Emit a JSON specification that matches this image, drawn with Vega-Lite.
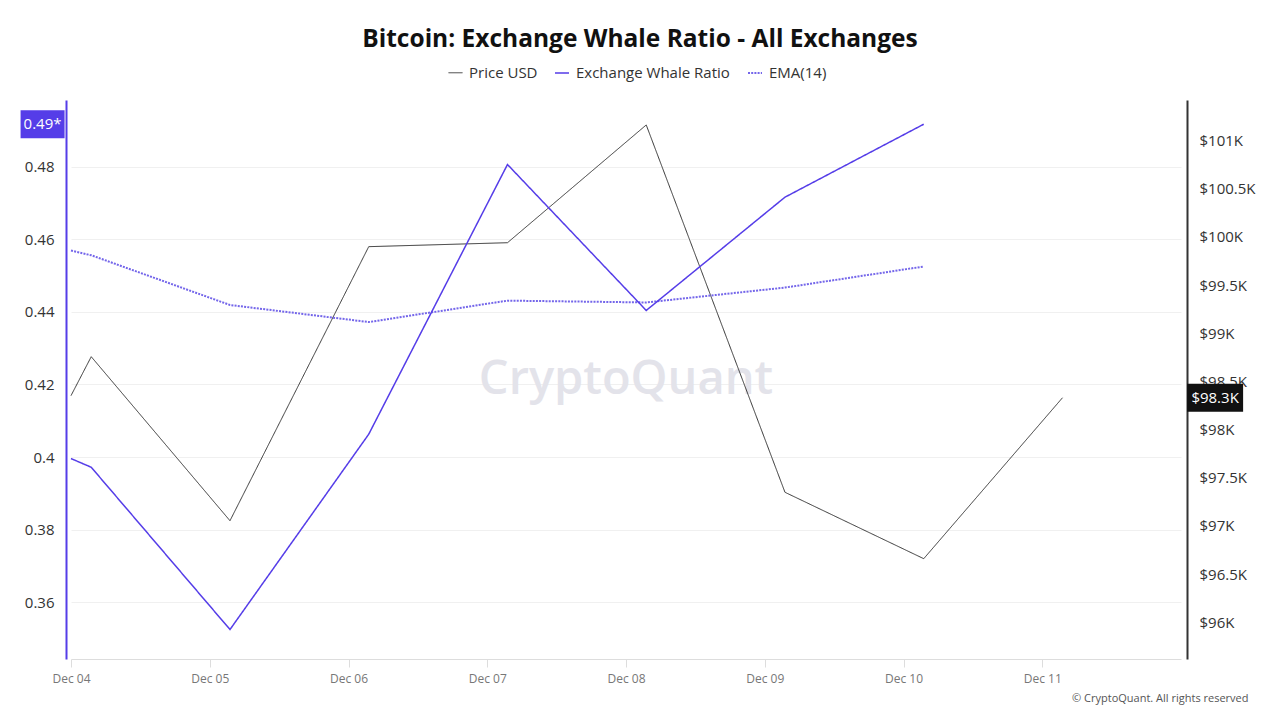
{
  "$schema": "https://vega.github.io/schema/vega-lite/v6.json",
  "width": 1110,
  "height": 559,
  "autosize": {"type": "none"},
  "padding": {"left": 71, "top": 100, "right": 99, "bottom": 61},
  "background": "white",
  "config": {"font": "Open Sans", "view": {"stroke": null}},
  "title": {"text": "Bitcoin: Exchange Whale Ratio - All Exchanges", "font": "Open Sans", "fontSize": 24.5, "fontWeight": "bold", "color": "#111111", "anchor": "middle", "dx": 14, "offset": 13},
  "datasets": {
    "price": [
      {"date": "2024-12-04T00:00:00", "series": "Price USD", "value": 98352},
      {"date": "2024-12-04T03:30:00", "series": "Price USD", "value": 98756},
      {"date": "2024-12-05T03:30:00", "series": "Price USD", "value": 97054},
      {"date": "2024-12-06T03:30:00", "series": "Price USD", "value": 99898},
      {"date": "2024-12-07T03:30:00", "series": "Price USD", "value": 99939},
      {"date": "2024-12-08T03:30:00", "series": "Price USD", "value": 101161},
      {"date": "2024-12-09T03:30:00", "series": "Price USD", "value": 97349},
      {"date": "2024-12-10T03:30:00", "series": "Price USD", "value": 96660},
      {"date": "2024-12-11T03:30:00", "series": "Price USD", "value": 98330}
    ],
    "whale": [
      {"date": "2024-12-04T00:00:00", "series": "Exchange Whale Ratio", "value": 0.3996},
      {"date": "2024-12-04T03:30:00", "series": "Exchange Whale Ratio", "value": 0.3972},
      {"date": "2024-12-05T03:30:00", "series": "Exchange Whale Ratio", "value": 0.3525},
      {"date": "2024-12-06T03:30:00", "series": "Exchange Whale Ratio", "value": 0.4063},
      {"date": "2024-12-07T03:30:00", "series": "Exchange Whale Ratio", "value": 0.4806},
      {"date": "2024-12-08T03:30:00", "series": "Exchange Whale Ratio", "value": 0.4404},
      {"date": "2024-12-09T03:30:00", "series": "Exchange Whale Ratio", "value": 0.4716},
      {"date": "2024-12-10T03:30:00", "series": "Exchange Whale Ratio", "value": 0.4917}
    ],
    "ema": [
      {"date": "2024-12-04T00:00:00", "series": "EMA(14)", "value": 0.4569},
      {"date": "2024-12-04T03:30:00", "series": "EMA(14)", "value": 0.4556},
      {"date": "2024-12-05T03:30:00", "series": "EMA(14)", "value": 0.4419},
      {"date": "2024-12-06T03:30:00", "series": "EMA(14)", "value": 0.4372},
      {"date": "2024-12-07T03:30:00", "series": "EMA(14)", "value": 0.4431},
      {"date": "2024-12-08T03:30:00", "series": "EMA(14)", "value": 0.4426},
      {"date": "2024-12-09T03:30:00", "series": "EMA(14)", "value": 0.4467},
      {"date": "2024-12-10T03:30:00", "series": "EMA(14)", "value": 0.4525}
    ]
  },
  "layer": [
    {
      "data": {"values": [{}]},
      "mark": {"type": "text", "x": {"expr": "width/2"}, "y": {"expr": "height/2"}, "text": "CryptoQuant", "font": "Open Sans", "fontSize": 47, "fontWeight": 600, "color": "#e3e3ea", "align": "center", "baseline": "middle"},
      "encoding": {}
    },
    {
      "layer": [
        {
          "data": {"name": "price"},
          "mark": {"type": "line"},
          "encoding": {
            "x": {"field": "date", "type": "temporal", "scale": {"domain": [{"year": 2024, "month": 12, "date": 4}, {"year": 2024, "month": 12, "date": 12}]},
              "axis": {"values": [{"year": 2024, "month": 12, "date": 4}, {"year": 2024, "month": 12, "date": 5}, {"year": 2024, "month": 12, "date": 6}, {"year": 2024, "month": 12, "date": 7}, {"year": 2024, "month": 12, "date": 8}, {"year": 2024, "month": 12, "date": 9}, {"year": 2024, "month": 12, "date": 10}, {"year": 2024, "month": 12, "date": 11}],
                "format": "%b %d", "labelFontSize": 12, "labelColor": "#777777", "labelFlush": false, "labelPadding": 6,
                "domainColor": "#dddddd", "domainWidth": 1, "tickColor": "#dddddd", "tickSize": 8, "grid": false,
                "title": "© CryptoQuant. All rights reserved", "titleFontSize": 11, "titleFontWeight": "normal", "titleColor": "#555555",
                "titleAnchor": "end", "titleAlign": "right", "titleX": 1177, "titleY": 39, "titleBaseline": "middle"}},
            "y": {"field": "value", "type": "quantitative", "scale": {"domain": [95619, 101420], "zero": false, "nice": false},
              "axis": {"orient": "right", "offset": 6, "values": [96000, 96500, 97000, 97500, 98000, 98500, 99000, 99500, 100000, 100500, 101000],
                "labelExpr": "'$' + format(datum.value/1000, '~g') + 'K'", "labelFontSize": 15, "labelColor": "#333333",
                "ticks": false, "tickSize": 0, "labelPadding": 12, "domainColor": "#333333", "domainWidth": 2, "grid": false, "title": null}},
            "color": {"field": "series", "type": "nominal",
              "scale": {"domain": ["Price USD", "Exchange Whale Ratio", "EMA(14)"], "range": ["#333333", "#553de8", "#7466ea"]},
              "legend": {"orient": "none", "legendX": 377, "legendY": -35, "direction": "horizontal", "title": null,
                "labelFontSize": 15, "labelColor": "#333333", "symbolType": "stroke", "symbolSize": 196, "columnPadding": 14, "labelOffset": 6}},
            "strokeDash": {"field": "series", "type": "nominal",
              "scale": {"domain": ["Price USD", "Exchange Whale Ratio", "EMA(14)"], "range": [[1, 0], [1, 0], [2, 1.2]]}},
            "strokeWidth": {"field": "series", "type": "nominal",
              "scale": {"domain": ["Price USD", "Exchange Whale Ratio", "EMA(14)"], "range": [1, 2, 0.8]}}
          }
        },
        {
          "data": {"name": "price"},
          "transform": [
            {"filter": {"field": "date", "equal": {"year": 2024, "month": 12, "date": 11, "hours": 3, "minutes": 30}}}
          ],
          "mark": {"type": "point", "shape": "M-1,-0.5H1V0.5H-1Z", "filled": true, "color": "#111111", "opacity": 1, "size": 3136},
          "encoding": {
            "x": {"datum": {"year": 2024, "month": 12, "date": 12, "hours": 5, "minutes": 54}, "type": "temporal"},
            "y": {"field": "value", "type": "quantitative", "scale": {"domain": [95619, 101420], "zero": false, "nice": false}}
          }
        },
        {
          "data": {"name": "price"},
          "transform": [
            {"filter": {"field": "date", "equal": {"year": 2024, "month": 12, "date": 11, "hours": 3, "minutes": 30}}},
            {"calculate": "'$' + format(datum.value/1000, '.1f') + 'K'", "as": "label"}
          ],
          "mark": {"type": "text", "color": "white", "fontSize": 15, "font": "Open Sans", "align": "center", "baseline": "middle"},
          "encoding": {
            "x": {"datum": {"year": 2024, "month": 12, "date": 12, "hours": 5, "minutes": 54}, "type": "temporal"},
            "y": {"field": "value", "type": "quantitative", "scale": {"domain": [95619, 101420], "zero": false, "nice": false}},
            "text": {"field": "label", "type": "nominal"}
          }
        }
      ]
    },
    {
      "layer": [
        {
          "data": {"name": "ema"},
          "mark": {"type": "line"},
          "encoding": {
            "x": {"field": "date", "type": "temporal"},
            "y": {"field": "value", "type": "quantitative", "scale": {"domain": [0.34438, 0.49837], "zero": false, "nice": false},
              "axis": {"orient": "left", "offset": 5, "values": [0.36, 0.38, 0.4, 0.42, 0.44, 0.46, 0.48], "format": ".2~f",
                "labelFontSize": 15, "labelColor": "#333333", "ticks": false, "tickSize": 0, "labelPadding": 12,
                "domainColor": "#553de8", "domainWidth": 2, "grid": true, "gridColor": "#f0f0f0", "gridWidth": 1, "title": null}},
            "color": {"field": "series", "type": "nominal"},
            "strokeDash": {"field": "series", "type": "nominal"},
            "strokeWidth": {"field": "series", "type": "nominal"}
          }
        },
        {
          "data": {"name": "whale"},
          "mark": {"type": "line"},
          "encoding": {
            "x": {"field": "date", "type": "temporal"},
            "y": {"field": "value", "type": "quantitative", "scale": {"domain": [0.34438, 0.49837], "zero": false, "nice": false}},
            "color": {"field": "series", "type": "nominal"},
            "strokeDash": {"field": "series", "type": "nominal"},
            "strokeWidth": {"field": "series", "type": "nominal"}
          }
        },
        {
          "data": {"name": "whale"},
          "transform": [
            {"filter": {"field": "date", "equal": {"year": 2024, "month": 12, "date": 10, "hours": 3, "minutes": 30}}}
          ],
          "mark": {"type": "point", "shape": "M-1,-0.636H1V0.636H-1Z", "filled": true, "color": "#553de8", "opacity": 1, "size": 1936},
          "encoding": {
            "x": {"datum": {"year": 2024, "month": 12, "date": 3, "hours": 19, "minutes": 5}, "type": "temporal"},
            "y": {"field": "value", "type": "quantitative", "scale": {"domain": [0.34438, 0.49837], "zero": false, "nice": false}}
          }
        },
        {
          "data": {"name": "whale"},
          "transform": [
            {"filter": {"field": "date", "equal": {"year": 2024, "month": 12, "date": 10, "hours": 3, "minutes": 30}}},
            {"calculate": "format(datum.value, '.2f') + '*'", "as": "label"}
          ],
          "mark": {"type": "text", "color": "white", "fontSize": 15, "font": "Open Sans", "align": "center", "baseline": "middle"},
          "encoding": {
            "x": {"datum": {"year": 2024, "month": 12, "date": 3, "hours": 19, "minutes": 5}, "type": "temporal"},
            "y": {"field": "value", "type": "quantitative", "scale": {"domain": [0.34438, 0.49837], "zero": false, "nice": false}},
            "text": {"field": "label", "type": "nominal"}
          }
        }
      ]
    }
  ],
  "resolve": {"scale": {"y": "independent"}, "axis": {"y": "independent"}}
}
